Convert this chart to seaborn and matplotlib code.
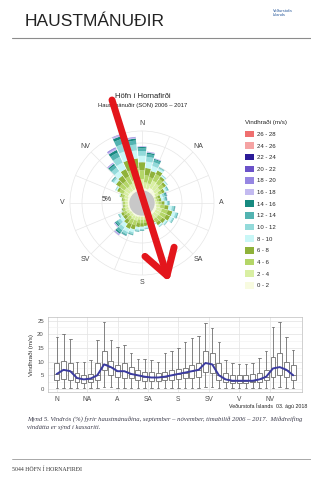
import numpy as np
import pandas as pd
import seaborn as sns
import matplotlib.pyplot as plt
from matplotlib.patches import Patch, Circle, FancyArrowPatch
from matplotlib.lines import Line2D

# wind rose: frequency (%) per 10 degree sector and speed bin
directions = np.arange(0, 360, 10)
freq_0_2 = [0.5, 0.35, 0.35, 0.6, 0.6, 0.5, 0.35, 0.15, 0.15, 0.2, 0.3, 0.4, 0.4, 0.4, 0.4, 0.25, 0.25, 0.22,
            0.22, 0.22, 0.3, 0.3, 0.25, 0.2, 0.3, 0.3, 0.28, 0.28, 0.3, 0.35, 0.45, 0.45, 0.4, 0.4, 0.5, 0.5]
freq_2_4 = [1.0, 0.75, 0.7, 1.0, 0.9, 0.75, 0.5, 0.2, 0.22, 0.35, 0.5, 0.7, 0.7, 0.65, 0.6, 0.4, 0.4, 0.38,
            0.38, 0.38, 0.5, 0.5, 0.4, 0.35, 0.4, 0.4, 0.33, 0.33, 0.38, 0.48, 0.65, 0.75, 0.7, 0.8, 1.0, 1.1]
freq_4_6 = [1.1, 0.9, 0.8, 0.9, 0.7, 0.6, 0.45, 0.25, 0.28, 0.4, 0.55, 0.75, 0.75, 0.6, 0.55, 0.4, 0.4, 0.4,
            0.42, 0.45, 0.6, 0.65, 0.5, 0.4, 0.4, 0.3, 0.22, 0.22, 0.26, 0.36, 0.55, 0.75, 0.8, 1.0, 1.3, 1.3]
freq_6_8 = [1.0, 0.9, 0.8, 0.5, 0.35, 0.35, 0.35, 0.3, 0.3, 0.38, 0.5, 0.6, 0.55, 0.43, 0.37, 0.32, 0.35, 0.4,
            0.45, 0.48, 0.55, 0.65, 0.55, 0.45, 0.3, 0.13, 0.09, 0.09, 0.11, 0.16, 0.3, 0.55, 0.8, 1.0, 1.3, 1.2]
freq_8_10 = [0.8, 0.8, 0.65, 0.25, 0.15, 0.15, 0.25, 0.3, 0.28, 0.28, 0.4, 0.4, 0.32, 0.22, 0.18, 0.15, 0.18, 0.23,
             0.28, 0.32, 0.38, 0.45, 0.55, 0.45, 0.2, 0.05, 0.03, 0.03, 0.05, 0.07, 0.15, 0.35, 0.7, 0.9, 1.2, 1.0]
freq_10_12 = [0.6, 0.6, 0.5, 0.12, 0.07, 0.07, 0.17, 0.25, 0.22, 0.18, 0.25, 0.22, 0.15, 0.1, 0.07, 0.06, 0.08, 0.11,
              0.14, 0.17, 0.22, 0.3, 0.45, 0.38, 0.12, 0.02, 0, 0, 0, 0.03, 0.07, 0.2, 0.55, 0.8, 0.95, 0.75]
freq_12_14 = [0.35, 0.35, 0.3, 0.06, 0.03, 0.03, 0.1, 0.18, 0.14, 0.1, 0.13, 0.1, 0.06, 0.05, 0.03, 0.02, 0.04, 0.06,
              0.07, 0.07, 0.1, 0.15, 0.35, 0.28, 0.06, 0, 0, 0, 0, 0, 0.03, 0.1, 0.38, 0.6, 0.65, 0.5]
freq_14_16 = [0.15, 0.18, 0.12, 0.02, 0, 0, 0.03, 0.1, 0.07, 0.04, 0.05, 0.03, 0.02, 0, 0, 0, 0, 0,
              0.03, 0.03, 0.04, 0.07, 0.2, 0.15, 0.02, 0, 0, 0, 0, 0, 0, 0.05, 0.2, 0.35, 0.35, 0.25]
freq_16_18 = [0.07, 0.08, 0.05, 0, 0, 0, 0, 0.05, 0.03, 0.02, 0.02, 0, 0, 0, 0, 0, 0, 0,
              0, 0, 0.01, 0.03, 0.12, 0.09, 0, 0, 0, 0, 0, 0, 0, 0, 0.1, 0.2, 0.2, 0.12]
freq_18_20 = [0.03, 0.04, 0.03, 0, 0, 0, 0, 0.02, 0.01, 0, 0, 0, 0, 0, 0, 0, 0, 0,
              0, 0, 0, 0, 0.06, 0.04, 0, 0, 0, 0, 0, 0, 0, 0, 0.05, 0.1, 0.1, 0.05]
freq_20_22 = [0, 0, 0, 0, 0, 0, 0, 0, 0, 0, 0, 0, 0, 0, 0, 0, 0, 0,
              0, 0, 0, 0, 0.02, 0.01, 0, 0, 0, 0, 0, 0, 0, 0, 0.02, 0.05, 0.05, 0.03]
calm_radius = 1.5

speed_labels = ["0 - 2", "2 - 4", "4 - 6", "6 - 8", "8 - 10", "10 - 12", "12 - 14",
                "14 - 16", "16 - 18", "18 - 20", "20 - 22", "22 - 24", "24 - 26", "26 - 28"]
speed_colors = ["#f8fbe0", "#d9efa3", "#b4d668", "#8fb23a", "#c9f7f7", "#93dada", "#52b3b1",
                "#178a80", "#c3baf0", "#9686e2", "#6b52c9", "#2b1b98", "#f5a3a3", "#ef6f6f"]

# box plot: wind speed (m/s) per 10 degree sector
box_low = [0.4, 0.4, 0.4, 0.3, 0.3, 0.3, 0.4, 0.8, 0.6, 0.5, 0.5, 0.4, 0.4, 0.3, 0.3, 0.3, 0.3, 0.4,
           0.4, 0.4, 0.5, 0.5, 0.7, 0.6, 0.4, 0.3, 0.3, 0.3, 0.3, 0.3, 0.3, 0.4, 0.5, 0.6, 0.5, 0.4]
box_q1 = [3.3, 3.5, 3.3, 2.7, 2.3, 2.7, 3.3, 7.0, 5.1, 4.5, 3.9, 3.9, 3.3, 3.0, 3.0, 3.0, 3.3, 3.3,
          3.5, 3.9, 3.9, 4.5, 6.3, 5.7, 3.3, 2.7, 2.3, 2.3, 2.3, 2.4, 2.7, 3.3, 4.5, 5.1, 4.5, 3.3]
box_med = [5.5, 7.0, 6.5, 4.0, 3.5, 3.8, 5.0, 9.0, 8.0, 6.5, 6.5, 5.5, 5.0, 4.5, 4.2, 4.2, 4.5, 5.0,
           5.5, 6.0, 6.5, 7.0, 9.5, 9.0, 5.0, 3.5, 3.0, 3.0, 3.0, 3.0, 3.5, 4.5, 7.5, 8.0, 7.0, 5.0]
box_q3 = [9.6, 10.4, 9.6, 5.7, 5.1, 5.5, 9.4, 13.7, 10.4, 8.8, 9.4, 8.2, 7.0, 6.3, 6.3, 5.7, 6.3, 7.0,
          7.2, 7.5, 8.8, 9.4, 13.7, 13.0, 9.4, 5.7, 5.1, 5.1, 5.1, 5.3, 5.7, 7.0, 11.8, 13.0, 10.0, 8.8]
box_high = [19.0, 20.0, 18.3, 10.0, 9.7, 10.6, 18.0, 24.6, 18.0, 15.5, 16.0, 13.0, 11.0, 10.8, 10.6, 10.0, 13.0, 13.7,
            15.0, 17.3, 18.5, 19.4, 24.0, 22.2, 17.3, 10.6, 9.4, 9.2, 9.2, 9.4, 11.2, 13.7, 22.8, 24.6, 19.0, 14.3]

compass = ["N", "NA", "A", "SA", "S", "SV", "V", "NV"]

sns.set_style("whitegrid")
plt.rcParams['font.family'] = ['Liberation Sans', 'DejaVu Sans']

W, H = 311, 479
fig = plt.figure(figsize=(W / 100, H / 100), dpi=100)


def px(x, y):
    return x / W, 1 - y / H


def rect(x0, y0, x1, y1):
    return [x0 / W, 1 - y1 / H, (x1 - x0) / W, (y1 - y0) / H]


# page header
fig.text(*px(25, 21), "HAUSTMÁNUÐIR", fontsize=12.5, color="#222222", va="center", ha="left")
fig.text(*px(273, 13), "Veðurstofa\nÍslands", fontsize=3, color="#2a5a9c", va="center", ha="left",
         linespacing=1.1)
fig.add_artist(Line2D([12 / W, 1], [1 - 38 / H] * 2, color="#8c8c8c", lw=0.8))

# wind rose
ax = fig.add_axes(rect(70, 131, 214, 275), projection="polar")
ax.set_theta_zero_location("N")
ax.set_theta_direction(-1)
theta = np.deg2rad(directions)
freqs = [freq_0_2, freq_2_4, freq_4_6, freq_6_8, freq_8_10, freq_10_12, freq_12_14,
         freq_14_16, freq_16_18, freq_18_20, freq_20_22]
bottom = np.full(len(directions), calm_radius)
for vals, col in zip(freqs, speed_colors):
    vals = np.array(vals)
    ax.bar(theta, vals, width=np.deg2rad(9), bottom=bottom, color=col, edgecolor="none", zorder=3)
    bottom = bottom + vals
ax.add_patch(Circle((0.5, 0.5), calm_radius / 9 * 0.5, transform=ax.transAxes,
                    color="#c8c8c8", zorder=4))
ax.set_ylim(0, 9)
ax.set_yticks([2.5, 5, 7.5])
ax.set_yticklabels(["", "5%", ""], fontsize=5, color="#333333")
ax.set_rlabel_position(270)
ticks16 = np.deg2rad(np.arange(0, 360, 22.5))
ax.set_xticks(ticks16)
ax.set_xticklabels([x for k in compass for x in (k, "")], fontsize=5, color="#444444")
ax.tick_params(axis="x", pad=-5)
ax.grid(color="#e6e6e6", lw=0.5)
ax.spines["polar"].set_color("#e6e6e6")
ax.spines["polar"].set_linewidth(0.5)

fig.text(*px(143, 97), "Höfn í Hornafirði", fontsize=5.5, color="#222222", ha="center", va="center")
fig.text(*px(143, 105), "Haustmánuðir (SON) 2006 – 2017", fontsize=4.2, color="#222222",
         ha="center", va="center")

handles = [Patch(facecolor=c, edgecolor="none") for c in speed_colors][::-1]
leg = fig.legend(handles, speed_labels[::-1], loc="upper left", bbox_to_anchor=px(243, 118),
                 fontsize=4.3, title="Vindhraði (m/s)", title_fontsize=4.5, frameon=False,
                 handlelength=1.4, handleheight=1.3, labelspacing=0.86, handletextpad=0.6,
                 borderaxespad=0, alignment="left")

# box plot
bx = fig.add_axes(rect(48, 317, 302, 392))
rows = []
for d, lo, q1, md, q3, hi in zip(range(len(directions)), box_low, box_q1, box_med, box_q3, box_high):
    for v in (lo, q1, md, q3, hi):
        rows.append({"pos": d, "speed": v})
box_df = pd.DataFrame(rows)
sns.boxplot(data=box_df, x="pos", y="speed", native_scale=True, whis=np.inf, width=0.72,
            color="white", linecolor="#6e6e6e", linewidth=0.6, fliersize=0, ax=bx)
sns.lineplot(x=np.arange(len(directions)), y=box_med, color="#3b3ba0", lw=1.4, ax=bx, zorder=5)
bx.set_xlim(-1.3, 36.3)
bx.set_ylim(-1.1, 26.3)
bx.set_xticks(np.arange(0, 36, 4.5))
bx.set_xticklabels(compass, fontsize=4.8, color="#4d4d4d")
bx.set_yticks([0, 5, 10, 15, 20, 25])
bx.set_yticks([2.5, 7.5, 12.5, 17.5, 22.5], minor=True)
bx.tick_params(axis="y", labelsize=4.3, colors="#4d4d4d", pad=1.5, length=1.5)
bx.tick_params(axis="x", pad=1.5, length=1.5)
bx.grid(which="major", color="#e2e2e2", lw=0.5)
bx.grid(which="minor", axis="y", color="#f0f0f0", lw=0.4)
bx.set_xlabel("")
bx.set_ylabel("Vindhraði (m/s)", fontsize=4.5, color="#333333", labelpad=2)
for s in bx.spines.values():
    s.set_color("#bdbdbd")
    s.set_linewidth(0.5)

fig.text(*px(307, 406), "Veðurstofa Íslands  03. ágú 2018", fontsize=3.8, color="#222222",
         ha="right", va="center")

# caption and footer
serif = ['Liberation Serif', 'DejaVu Serif']
fig.text(*px(27, 420), "Mynd 5. Vindrós (%) fyrir haustmánuðina, september – nóvember, tímabilið 2006 – 2017.  Miðdreifing",
         fontsize=4.8, style="italic", family=serif, color="#3a3a4a", ha="left", va="center")
fig.text(*px(27, 427), "vindátta er sýnd í kassariti.",
         fontsize=4.8, style="italic", family=serif, color="#3a3a4a", ha="left", va="center")
fig.add_artist(Line2D([12 / W, 1], [1 - 459 / H] * 2, color="#9a9a9a", lw=0.6))
fig.text(*px(12, 469), "5044 HÖFN Í HORNAFIRÐI", fontsize=4.2, family=serif, color="#333333",
         ha="left", va="center")

# red arrow
arrow = FancyArrowPatch(px(112, 100), px(169, 282), transform=fig.transFigure,
                        arrowstyle="->,head_length=0.9,head_width=0.55", mutation_scale=20,
                        lw=5, color="#e3161c", shrinkA=0, shrinkB=0, zorder=10)
fig.add_artist(arrow)

fig.savefig("out.png", dpi=100)
